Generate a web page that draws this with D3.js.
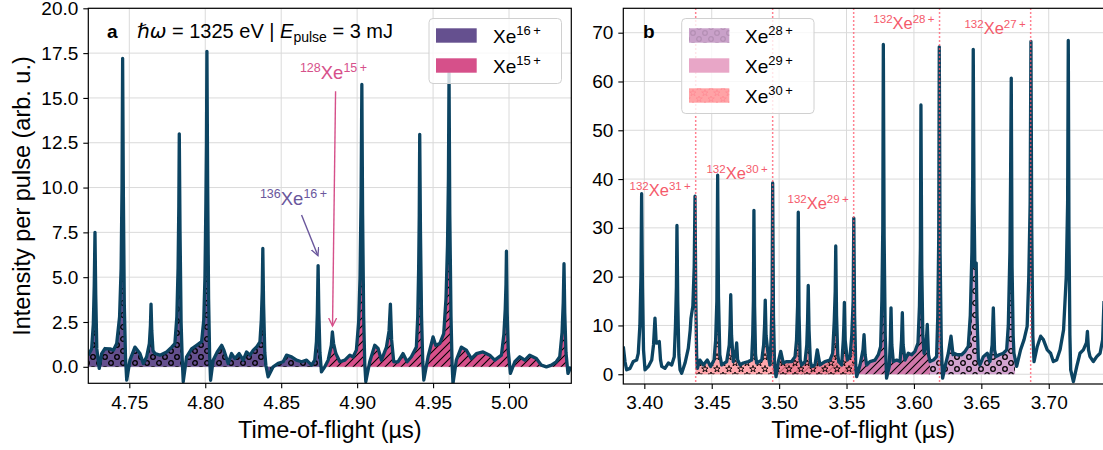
<!DOCTYPE html>
<html>
<head>
<meta charset="utf-8">
<script src="https://cdn.jsdelivr.net/npm/d3@7"></script>
<style>
body { margin: 0; background: #fff; }
text { font-family: "Liberation Sans", Arial, Helvetica, sans-serif; }
</style>
</head>
<body>
<div id="chart"></div>
<script>
// ---- data ----
// panel a : Xe 15+/16+ region
var tofA = [4.7230,4.7252,4.7263,4.7269,4.7274,4.7279,4.7286,4.7302,4.7318,4.7340,4.7373,4.7395,4.7417,4.7436,4.7446,4.7452,4.7456,4.7461,4.7467,4.7475,4.7483,4.7504,4.7537,4.7570,4.7592,4.7614,4.7632,4.7639,4.7643,4.7648,4.7656,4.7669,4.7702,4.7746,4.7779,4.7800,4.7813,4.7821,4.7826,4.7829,4.7834,4.7841,4.7848,4.7855,4.7877,4.7910,4.7943,4.7976,4.7990,4.7998,4.8004,4.8008,4.8011,4.8016,4.8022,4.8029,4.8035,4.8052,4.8079,4.8108,4.8123,4.8151,4.8173,4.8195,4.8223,4.8250,4.8272,4.8294,4.8316,4.8338,4.8360,4.8369,4.8375,4.8379,4.8384,4.8392,4.8399,4.8414,4.8447,4.8480,4.8513,4.8535,4.8568,4.8601,4.8634,4.8667,4.8700,4.8721,4.8732,4.8738,4.8743,4.8748,4.8755,4.8765,4.8787,4.8809,4.8830,4.8837,4.8845,4.8860,4.8886,4.8919,4.8952,4.8973,4.8995,4.9010,4.9019,4.9026,4.9031,4.9036,4.9043,4.9050,4.9057,4.9083,4.9116,4.9138,4.9160,4.9193,4.9210,4.9219,4.9227,4.9241,4.9269,4.9302,4.9329,4.9357,4.9390,4.9399,4.9405,4.9409,4.9412,4.9417,4.9424,4.9432,4.9439,4.9467,4.9500,4.9517,4.9544,4.9570,4.9585,4.9595,4.9601,4.9605,4.9610,4.9618,4.9625,4.9631,4.9653,4.9686,4.9719,4.9752,4.9785,4.9829,4.9873,4.9906,4.9950,4.9966,4.9975,4.9980,4.9983,4.9988,4.9995,5.0009,5.0038,5.0071,5.0104,5.0136,5.0180,5.0213,5.0246,5.0279,5.0311,5.0334,5.0349,5.0357,5.0362,5.0367,5.0375,5.0388,5.0408];
var intA = [0.65,1.0,2.4,4.5,7.5,4.0,1.0,-0.09,0.74,1.02,1.0,0.93,1.3,2.8,5.5,10.0,17.2,9.5,3.5,0.5,-0.74,0.37,1.1,0.74,0.19,0.56,1.3,2.3,3.5,2.0,0.9,0.74,0.65,0.83,1.1,1.3,2.8,5.5,9.0,13.0,7.5,2.5,0.5,-0.83,0.56,1.0,1.2,1.4,2.6,5.0,9.0,12.5,17.6,10.0,3.8,0.6,-0.75,0.37,0.83,1.2,0.93,0.19,0.74,0.46,0.74,0.37,0.83,0.65,0.93,1.1,1.39,2.6,4.2,6.6,3.5,0.8,0.09,-0.56,0.0,0.19,0.28,0.65,0.56,0.37,0.28,0.37,0.09,0.37,1.4,3.0,5.65,3.0,0.8,-0.28,0.0,0.37,1.2,1.95,1.3,0.74,0.28,0.37,0.65,0.55,0.93,2.5,5.0,9.5,15.75,8.5,2.8,0.2,-0.83,0.28,1.2,1.02,0.37,1.1,2.0,3.5,1.5,0.28,0.28,0.74,0.28,0.56,1.1,2.8,5.5,8.5,12.97,7.5,2.8,0.3,-0.74,0.56,1.67,1.2,1.3,1.85,3.8,6.8,10.5,16.4,8.5,2.8,0.2,-0.93,0.37,1.1,0.93,0.46,0.74,0.83,0.65,0.37,0.65,1.8,3.2,4.6,6.45,3.0,0.9,-0.37,0.28,0.56,0.37,0.65,0.46,0.09,0.0,0.09,0.28,0.56,1.9,3.6,5.75,3.0,0.8,-0.37,0.0];

// panel b : Xe 27+ ... 31+ region
var tofB = [3.3844,3.3857,3.3869,3.3894,3.3918,3.3943,3.3955,3.3967,3.3975,3.3980,3.3986,3.3994,3.4005,3.4030,3.4055,3.4068,3.4079,3.4088,3.4096,3.4111,3.4120,3.4129,3.4153,3.4178,3.4203,3.4222,3.4231,3.4238,3.4242,3.4248,3.4256,3.4265,3.4277,3.4302,3.4326,3.4340,3.4346,3.4360,3.4370,3.4376,3.4382,3.4388,3.4393,3.4413,3.4438,3.4467,3.4492,3.4517,3.4529,3.4538,3.4544,3.4550,3.4560,3.4574,3.4611,3.4630,3.4636,3.4641,3.4647,3.4660,3.4680,3.4685,3.4692,3.4710,3.4734,3.4771,3.4796,3.4804,3.4809,3.4813,3.4818,3.4825,3.4833,3.4871,3.4885,3.4892,3.4897,3.4903,3.4920,3.4932,3.4941,3.4948,3.4952,3.4958,3.4966,3.4977,3.4994,3.5012,3.5031,3.5056,3.5093,3.5118,3.5129,3.5137,3.5142,3.5148,3.5156,3.5167,3.5192,3.5205,3.5211,3.5216,3.5222,3.5232,3.5242,3.5266,3.5283,3.5303,3.5340,3.5377,3.5397,3.5409,3.5416,3.5420,3.5426,3.5435,3.5442,3.5464,3.5476,3.5480,3.5484,3.5490,3.5506,3.5526,3.5539,3.5549,3.5554,3.5560,3.5568,3.5575,3.5600,3.5622,3.5630,3.5638,3.5649,3.5674,3.5711,3.5736,3.5753,3.5762,3.5769,3.5773,3.5779,3.5787,3.5797,3.5817,3.5825,3.5830,3.5836,3.5847,3.5872,3.5897,3.5908,3.5914,3.5920,3.5934,3.5958,3.5983,3.6008,3.6030,3.6041,3.6048,3.6052,3.6058,3.6066,3.6075,3.6090,3.6099,3.6108,3.6119,3.6144,3.6168,3.6177,3.6184,3.6188,3.6194,3.6203,3.6213,3.6231,3.6255,3.6275,3.6290,3.6297,3.6322,3.6354,3.6379,3.6403,3.6418,3.6430,3.6436,3.6440,3.6446,3.6452,3.6462,3.6468,3.6478,3.6490,3.6515,3.6544,3.6564,3.6580,3.6589,3.6598,3.6609,3.6633,3.6663,3.6688,3.6700,3.6712,3.6717,3.6722,3.6728,3.6736,3.6742,3.6762,3.6791,3.6817,3.6840,3.6852,3.6862,3.6868,3.6874,3.6882,3.6891,3.6915,3.6940,3.6960,3.6989,3.7014,3.7034,3.7059,3.7084,3.7110,3.7130,3.7140,3.7145,3.7150,3.7157,3.7163,3.7183,3.7208,3.7232,3.7257,3.7280,3.7287,3.7295,3.7306,3.7331,3.7356,3.7381,3.7400,3.7410];
var intB = [5.7,2.5,0.9,1.2,2.6,2.9,4.3,10.0,20.0,37.0,18.0,5.0,0.9,1.6,2.9,6.0,11.5,6.4,6.4,6.7,3.0,1.6,1.2,2.3,1.9,3.6,10.0,18.0,30.5,15.0,4.0,0.9,0.2,2.3,5.3,9.0,11.5,14.0,22.0,36.5,15.0,4.0,1.2,2.9,1.9,2.9,1.6,2.9,7.0,15.0,40.8,16.0,4.0,1.9,2.6,6.0,10.0,16.3,8.0,2.6,5.0,6.4,3.0,1.9,2.3,2.6,2.9,8.0,15.0,33.6,14.0,4.0,2.3,2.9,6.0,10.0,15.2,8.0,3.6,1.9,8.0,16.0,39.2,12.0,2.0,-0.5,2.6,4.7,2.3,2.6,2.6,3.6,7.0,14.0,33.2,12.0,3.0,1.9,2.6,6.0,11.0,18.2,9.0,2.5,1.6,1.9,5.0,1.9,2.6,2.9,4.3,11.0,17.0,26.3,12.0,4.0,2.6,1.9,7.0,10.0,14.7,7.0,2.9,3.6,8.0,15.0,32.0,12.0,2.0,-0.5,1.9,5.0,8.1,4.0,1.9,2.6,2.9,4.0,5.7,15.0,30.0,67.6,28.0,8.0,-0.8,1.6,7.0,13.6,6.0,2.6,2.9,2.6,7.0,12.6,6.0,2.9,4.3,4.0,4.7,6.4,14.0,26.0,55.2,22.0,8.0,4.3,6.0,10.2,4.0,2.6,2.9,3.6,12.0,28.0,67.1,25.0,6.0,-0.8,1.6,4.3,7.8,4.0,4.3,4.0,4.0,4.7,5.7,12.0,25.0,40.0,66.6,35.0,22.0,22.8,12.0,3.0,1.9,3.6,4.3,2.6,6.0,13.6,5.0,3.6,4.0,4.3,5.0,10.0,25.0,40.0,60.7,22.0,8.0,4.3,1.6,5.0,7.1,9.8,20.0,35.0,68.2,30.0,8.0,2.6,5.7,7.8,7.1,5.0,4.3,2.6,2.9,5.0,9.1,20.0,35.0,68.4,30.0,8.0,0.9,-1.5,1.6,4.3,5.0,6.5,8.8,5.0,3.6,2.6,3.6,4.3,7.1,15.0];

// tick labels
var xTicksA = [4.75, 4.80, 4.85, 4.90, 4.95, 5.00];
var yTicksA = [0, 2.5, 5, 7.5, 10, 12.5, 15, 17.5, 20];
var xTicksB = [3.40, 3.45, 3.50, 3.55, 3.60, 3.65, 3.70];
var yTicksB = [0, 10, 20, 30, 40, 50, 60, 70];

// shaded charge states, panel a
var chargeA = ["16", "15"];
var rangeA = [[4.7230, 4.8790], [4.8790, 5.0380]];

// shaded charge states, panel b (drawn in this order)
var chargeB = ["28", "29", "30"];
var rangeB = [[3.6119, 3.6750], [3.4952, 3.6119], [3.4381, 3.5556]];

// 132Xe lines in panel b
var lineTofB = [3.4381, 3.4952, 3.5553, 3.6190, 3.6866];
var lineChargeB = ["31", "30", "29", "28", "27"];
var lineLabelY = [36.5, 40.0, 33.8, 70.7, 69.8];

var svgWidth = 1103, svgHeight = 450;
var lineColor = "#0c4462";
var tickFont = 19, labelFont = 23.5;

var svg = d3.select("#chart").append("svg")
    .attr("width", svgWidth)
    .attr("height", svgHeight);

var defs = svg.append("defs");

// hatch patterns (matplotlib style 'o', '//', '*')
function makePattern(id, size, color, drawFn) {
    var p = defs.append("pattern")
        .attr("id", id)
        .attr("patternUnits", "userSpaceOnUse")
        .attr("width", size).attr("height", size);
    drawFn(p, color);
}
function circles(p, c) {
    [[3, 3], [9, 9]].forEach(function(d) {
        p.append("circle").attr("cx", d[0]).attr("cy", d[1]).attr("r", 2.3)
            .attr("fill", "none").attr("stroke", c).attr("stroke-width", 1.3);
    });
}
function slashes(p, c) {
    p.append("path").attr("d", "M-1,9 L9,-1 M-1,1 L1,-1 M7,9 L9,7")
        .attr("stroke", c).attr("stroke-width", 1.1);
}
function stars(p, c) {
    var star = d3.symbol().type(d3.symbolStar).size(14);
    [[3, 3], [9, 9]].forEach(function(d) {
        p.append("path").attr("d", star()).attr("transform", "translate(" + d[0] + "," + d[1] + ")")
            .attr("fill", "none").attr("stroke", c).attr("stroke-width", 0.9);
    });
}
makePattern("pat-o", 12, "#000", circles);
makePattern("pat-slash", 8, "#000", slashes);
makePattern("pat-star", 12, "#000", stars);
makePattern("pat-o-faint", 12, "#b48fb4", circles);
makePattern("pat-star-faint", 12, "#ff8f96", stars);

var arrowId = 0;
function arrowMarker(color) {
    arrowId++;
    var id = "arrow" + arrowId;
    defs.append("marker")
        .attr("id", id)
        .attr("markerUnits", "userSpaceOnUse")
        .attr("markerWidth", 12).attr("markerHeight", 12)
        .attr("refX", 8).attr("refY", 4)
        .attr("orient", "auto")
        .append("path")
        .attr("d", "M0,0 L8,4 L0,8")
        .attr("fill", "none")
        .attr("stroke", color)
        .attr("stroke-width", 1.3);
    return "url(#" + id + ")";
}

// isotope / charge label with superscripts
function isoText(g, x, y, mass, charge, color, anchor, big, small, raise) {
    var t = g.append("text")
        .attr("x", x).attr("y", y)
        .attr("fill", color)
        .attr("text-anchor", anchor);
    if (mass) t.append("tspan").attr("font-size", small).attr("dy", -raise).text(mass);
    t.append("tspan").attr("font-size", big).attr("dy", mass ? raise : 0).text("Xe");
    t.append("tspan").attr("font-size", small).attr("dy", -raise).text(charge + "\u2009+");
    return t;
}

function drawPanel(opt) {
    var x = d3.scaleLinear().domain(opt.xDomain).range([opt.left, opt.right]);
    var y = d3.scaleLinear().domain(opt.yDomain).range([opt.bottom, opt.top]);
    var g = svg.append("g");

    var clipId = "clip-" + opt.name;
    defs.append("clipPath").attr("id", clipId)
        .append("rect")
        .attr("x", opt.left).attr("y", opt.top)
        .attr("width", opt.right - opt.left).attr("height", opt.bottom - opt.top);

    // grid
    g.selectAll(".gx").data(opt.xTicks).enter().append("line")
        .attr("x1", d => x(d)).attr("x2", d => x(d))
        .attr("y1", opt.top).attr("y2", opt.bottom)
        .attr("stroke", "#dadada").attr("stroke-width", 1);
    g.selectAll(".gy").data(opt.yTicks).enter().append("line")
        .attr("x1", opt.left).attr("x2", opt.right)
        .attr("y1", d => y(d)).attr("y2", d => y(d))
        .attr("stroke", "#dadada").attr("stroke-width", 1);

    var pts = opt.tof.map(function(t, i) { return { t: t, v: opt.inten[i] }; });

    var area = d3.area()
        .x(d => x(d.t))
        .y0(y(0))
        .y1(d => y(d.v));

    // shaded regions
    opt.fills.forEach(function(f, i) {
        var fid = clipId + "-f" + i;
        defs.append("clipPath").attr("id", fid)
            .append("rect")
            .attr("x", x(f.range[0])).attr("y", opt.top)
            .attr("width", x(f.range[1]) - x(f.range[0]))
            .attr("height", opt.bottom - opt.top);
        var fg = g.append("g").attr("clip-path", "url(#" + fid + ")");
        fg.append("path").datum(pts)
            .attr("d", area)
            .attr("fill", f.color)
            .attr("fill-opacity", f.opacity);
        fg.append("path").datum(pts)
            .attr("d", area)
            .attr("fill", "url(#" + f.pattern + ")");
    });

    // spectrum
    var line = d3.line().x(d => x(d.t)).y(d => y(d.v));
    g.append("path").datum(pts)
        .attr("clip-path", "url(#" + clipId + ")")
        .attr("d", line)
        .attr("fill", "none")
        .attr("stroke", lineColor)
        .attr("stroke-width", 3.3)
        .attr("stroke-linejoin", "round");

    // axes
    var xAxis = d3.axisBottom(x).tickValues(opt.xTicks).tickSize(5).tickPadding(7)
        .tickFormat(d3.format(".2f"));
    var yAxis = d3.axisLeft(y).tickValues(opt.yTicks).tickSize(5).tickPadding(5)
        .tickFormat(d3.format(opt.yFormat));
    var gx = g.append("g").attr("transform", "translate(0," + opt.bottom + ")").call(xAxis);
    var gy = g.append("g").attr("transform", "translate(" + opt.left + ",0)").call(yAxis);
    [gx, gy].forEach(function(a) {
        a.select(".domain").remove();
        a.selectAll("line").attr("stroke", "#000").attr("stroke-width", 1.1);
        a.selectAll("text").attr("font-size", tickFont).attr("fill", "#000")
            .style("font-family", "'Liberation Sans', Arial, sans-serif");
    });

    // x-axis label
    g.append("text")
        .attr("x", (opt.left + Math.min(opt.right, svgWidth)) / 2)
        .attr("y", 438)
        .attr("text-anchor", "middle")
        .attr("font-size", labelFont)
        .text("Time-of-flight (\u00b5s)");

    return { g: g, x: x, y: y };
}

function spines(p, opt) {
    p.g.append("rect")
        .attr("x", opt.left).attr("y", opt.top)
        .attr("width", opt.right - opt.left).attr("height", opt.bottom - opt.top)
        .attr("fill", "none").attr("stroke", "#000").attr("stroke-width", 1.2);
}

// ---------- panel a ----------
var optA = {
    name: "a", left: 88.3, right: 571.3, top: 8.3, bottom: 383.3,
    xDomain: [4.723, 5.041], yDomain: [-0.92, 20],
    xTicks: xTicksA, yTicks: yTicksA, yFormat: ".1f",
    tof: tofA, inten: intA,
    fills: [
        { range: rangeA[0], color: "#65508f", opacity: 1, pattern: "pat-o" },
        { range: rangeA[1], color: "#d6508a", opacity: 1, pattern: "pat-slash" }
    ]
};
var pA = drawPanel(optA);

// 136Xe16+ annotation
var purpleTxt = "#6a579c";
pA.g.append("line")
    .attr("x1", pA.x(4.8634)).attr("y1", pA.y(8.47))
    .attr("x2", pA.x(4.8742)).attr("y2", pA.y(6.2))
    .attr("stroke", purpleTxt).attr("stroke-width", 1.4)
    .attr("marker-end", arrowMarker(purpleTxt));
isoText(pA.g, pA.x(4.8360), pA.y(9.03), "136", chargeA[0], purpleTxt, "start", 18.5, 12.5, 7);

// 128Xe15+ annotation
var pinkTxt = "#d6508a";
pA.g.append("line")
    .attr("x1", pA.x(4.8858)).attr("y1", pA.y(15.37))
    .attr("x2", pA.x(4.8838)).attr("y2", pA.y(2.28))
    .attr("stroke", pinkTxt).attr("stroke-width", 1.4)
    .attr("marker-end", arrowMarker(pinkTxt));
isoText(pA.g, pA.x(4.8623), pA.y(16.04), "128", chargeA[1], pinkTxt, "start", 18.5, 12.5, 7);

// title text
pA.g.append("text").attr("x", 107).attr("y", 38.3)
    .attr("font-size", 19).attr("font-weight", "bold").text("a");
var tt = pA.g.append("text").attr("x", 137).attr("y", 38.3).attr("font-size", 20);
tt.append("tspan").attr("font-style", "italic").style("font-family", "'DejaVu Sans', sans-serif").text("\u210f\u03c9");
tt.append("tspan").text(" = 1325 eV | ");
tt.append("tspan").attr("font-style", "italic").text("E");
tt.append("tspan").attr("font-size", 14).attr("dy", 4).text("pulse");
tt.append("tspan").attr("dy", -4).text(" = 3 mJ");

// legend a
var legA = pA.g.append("g");
legA.append("rect").attr("x", 429).attr("y", 18.5).attr("width", 132.5).attr("height", 65)
    .attr("rx", 4).attr("fill", "#fff").attr("fill-opacity", 0.8)
    .attr("stroke", "#d0d0d0").attr("stroke-width", 1);
var legColorsA = ["#65508f", "#d6508a"];
chargeA.forEach(function(c, i) {
    legA.append("rect").attr("x", 436).attr("y", 28.3 + i * 30)
        .attr("width", 40.7).attr("height", 14.4).attr("fill", legColorsA[i]);
    isoText(legA, 493, 42.7 + i * 30, null, c, "#000", "start", 19, 13, 8);
});

spines(pA, optA);

// y-axis label
svg.append("text")
    .attr("transform", "translate(30,196) rotate(-90)")
    .attr("text-anchor", "middle")
    .attr("font-size", labelFont)
    .text("Intensity per pulse (arb. u.)");

// ---------- panel b ----------
var optB = {
    name: "b", left: 623.3, right: 1104, top: 8.3, bottom: 384,
    xDomain: [3.3844, 3.7410], yDomain: [-2, 75],
    xTicks: xTicksB, yTicks: yTicksB, yFormat: "d",
    tof: tofB, inten: intB,
    fills: [
        { range: rangeB[0], color: "#d2a3cf", opacity: 1, pattern: "pat-o" },
        { range: rangeB[1], color: "#c8609b", opacity: 0.85, pattern: "pat-slash" },
        { range: rangeB[2], color: "#ff8a92", opacity: 0.75, pattern: "pat-star" }
    ]
};
var pB = drawPanel(optB);

// dotted lines + labels for 132Xe
var redTxt = "#f55a6b";
lineTofB.forEach(function(t, i) {
    pB.g.append("line")
        .attr("x1", pB.x(t)).attr("x2", pB.x(t))
        .attr("y1", optB.top).attr("y2", optB.bottom)
        .attr("stroke", "#ff5a6e").attr("stroke-width", 1.5)
        .attr("stroke-dasharray", "1.5,2.5");
    isoText(pB.g, pB.x(t) - 5, pB.y(lineLabelY[i]), "132", lineChargeB[i], redTxt, "end", 16.5, 11.5, 6);
});

pB.g.append("text").attr("x", 643).attr("y", 38.3)
    .attr("font-size", 19).attr("font-weight", "bold").text("b");

// legend b
var legB = pB.g.append("g");
legB.append("rect").attr("x", 681.7).attr("y", 18.5).attr("width", 132.3).attr("height", 95)
    .attr("rx", 4).attr("fill", "#fff").attr("fill-opacity", 0.8)
    .attr("stroke", "#d0d0d0").attr("stroke-width", 1);
var legColorsB = ["#c9a1c9", "#e8a6c7", "#ffa3a6"];
var legPatB = ["pat-o-faint", null, "pat-star-faint"];
chargeB.forEach(function(c, i) {
    legB.append("rect").attr("x", 689).attr("y", 28.3 + i * 30)
        .attr("width", 40.3).attr("height", 14.4).attr("fill", legColorsB[i]);
    if (legPatB[i]) {
        legB.append("rect").attr("x", 689).attr("y", 28.3 + i * 30)
            .attr("width", 40.3).attr("height", 14.4).attr("fill", "url(#" + legPatB[i] + ")");
    }
    isoText(legB, 745, 42.7 + i * 30, null, c, "#000", "start", 19, 13, 8);
});

spines(pB, optB);
</script>
</body>
</html>
